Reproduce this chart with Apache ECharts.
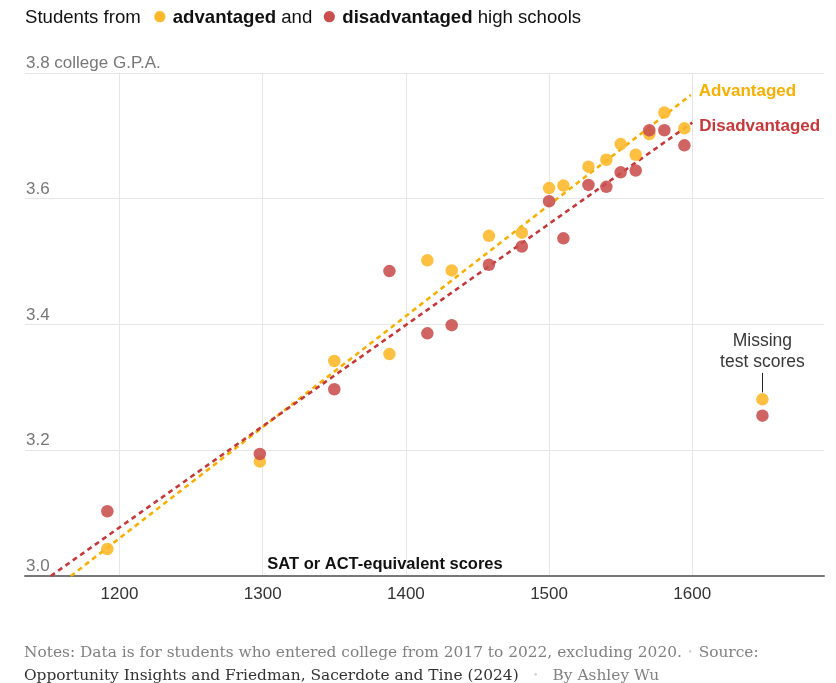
<!DOCTYPE html>
<html>
<head>
<meta charset="utf-8">
<script src="https://cdn.jsdelivr.net/npm/echarts@6/dist/echarts.min.js"></script>
<style>
html,body{margin:0;padding:0;background:#fff;}
#chart{width:836px;height:683px;}
</style>
</head>
<body>
<div id="chart"></div>
<script>
// ---- Data ----
const scores = [1191.5, 1298, 1350, 1388.5, 1415, 1432, 1458, 1481, 1500, 1510, 1527.5, 1540, 1550, 1560.5, 1570, 1580.5, 1594.5];
const advantagedGpa = [3.043, 3.182, 3.342, 3.353, 3.502, 3.486, 3.541, 3.546, 3.617, 3.621, 3.651, 3.662, 3.687, 3.670, 3.703, 3.737, 3.712];
const disadvantagedGpa = [3.103, 3.194, 3.297, 3.485, 3.386, 3.399, 3.495, 3.524, 3.596, 3.537, 3.622, 3.619, 3.642, 3.645, 3.709, 3.709, 3.685];
const missingScore = [1649];
const missingAdvantaged = [3.281];
const missingDisadvantaged = [3.255];
const advantagedTrend = [[1166, 3.0], [1599, 3.765]];
const disadvantagedTrend = [[1152, 3.0], [1600, 3.721]];
const yTicks = [3.0, 3.2, 3.4, 3.6, 3.8];
const xTicks = [1200, 1300, 1400, 1500, 1600];

const YEL = '#fdb92b';
const YEL_LINE = '#f5b000';
const RED = '#c84f4d';
const RED_LINE = '#c4383a';
const SANS = '"Liberation Sans", Arial, sans-serif';
const SERIF = '"DejaVu Serif", Georgia, serif';

const advData = scores.map((s, i) => [s, advantagedGpa[i]]);
advData.push({
  value: [missingScore[0], missingAdvantaged[0]],
  label: {
    show: true, position: 'top', distance: 20,
    formatter: 'Missing\ntest scores',
    fontFamily: SANS, fontSize: 17.5, lineHeight: 21, color: '#222'
  }
});
const disData = scores.map((s, i) => [s, disadvantagedGpa[i]]);
disData.push([missingScore[0], missingDisadvantaged[0]]);

const chart = echarts.init(document.getElementById('chart'), null, {renderer: 'canvas'});
chart.setOption({
  animation: false,
  backgroundColor: '#fff',
  textStyle: {fontFamily: SANS},
  title: {
    left: 25, top: 6, padding: 0,
    text: '{n|Students from }{y|●}{b| advantaged}{n| and }{r|●}{b| disadvantaged}{n| high schools}',
    textStyle: {
      fontWeight: 'normal', lineHeight: 24,
      rich: {
        n: {fontFamily: SANS, fontSize: 18.6, fontWeight: 'normal', color: '#111', lineHeight: 24},
        b: {fontFamily: SANS, fontSize: 18.6, fontWeight: 'bold', color: '#111', lineHeight: 24},
        y: {fontFamily: SANS, fontSize: 26, fontWeight: 'normal', color: YEL, padding: [0, 0, 2, 6], lineHeight: 24},
        r: {fontFamily: SANS, fontSize: 26, fontWeight: 'normal', color: RED, padding: [0, 0, 2, 4], lineHeight: 24}
      }
    }
  },
  grid: {left: 25, right: 12, top: 73, bottom: 107, containLabel: false},
  xAxis: {
    type: 'value', min: 1134, max: 1692,
    axisLine: {show: true, onZero: false, lineStyle: {color: '#777', width: 2}},
    axisTick: {show: false},
    splitLine: {show: true, showMinLine: false, showMaxLine: false, lineStyle: {color: '#e6e6e6', width: 1}},
    axisLabel: {
      showMinLabel: false, showMaxLabel: false,
      color: '#333', fontSize: 17, margin: 10, fontFamily: SANS,
      formatter: v => xTicks.includes(v) ? String(v) : ''
    },
    name: 'SAT or ACT-equivalent scores',
    nameLocation: 'middle', nameGap: -20, nameMoveOverlap: false,
    nameTextStyle: {fontFamily: SANS, fontWeight: 'bold', fontSize: 16.5, color: '#111', padding: [0, 79, 0, 0]}
  },
  yAxis: {
    type: 'value', min: 3.0, max: 3.8, interval: 0.2,
    axisLine: {show: false}, axisTick: {show: false},
    splitLine: {show: true, lineStyle: {color: '#e6e6e6', width: 1}},
    axisLabel: {
      inside: true, margin: 1, color: '#777', fontSize: 17, fontFamily: SANS,
      verticalAlign: 'bottom', padding: [0, 0, 1, 0],
      formatter: v => {
        const t = yTicks.find(k => Math.abs(k - v) < 1e-6);
        if (t === undefined) return '';
        return t === 3.8 ? '3.8 college G.P.A.' : t.toFixed(1);
      }
    }
  },
  series: [
    {
      type: 'line', name: 'Advantaged trend', data: advantagedTrend,
      symbol: 'none', silent: true, z: 2,
      lineStyle: {color: YEL_LINE, width: 2.6, type: [5, 4]},
      endLabel: {show: true, formatter: 'Advantaged', color: YEL_LINE, fontWeight: 'bold', fontSize: 17, fontFamily: SANS, offset: [0, -4]}
    },
    {
      type: 'line', name: 'Disadvantaged trend', data: disadvantagedTrend,
      symbol: 'none', silent: true, z: 2,
      lineStyle: {color: RED_LINE, width: 2.6, type: [5, 4]},
      endLabel: {show: true, formatter: 'Disadvantaged', color: RED_LINE, fontWeight: 'bold', fontSize: 17, fontFamily: SANS, offset: [-1, 4]}
    },
    {
      type: 'scatter', name: 'Advantaged', data: advData, z: 3,
      symbolSize: 12.5,
      itemStyle: {color: YEL, opacity: 0.9},
      markLine: {
        silent: true, symbol: 'none', label: {show: false},
        lineStyle: {color: '#222', width: 1, type: 'solid'},
        data: [[{coord: [missingScore[0], missingAdvantaged[0] + 0.011]}, {coord: [missingScore[0], missingAdvantaged[0] + 0.042]}]]
      }
    },
    {
      type: 'scatter', name: 'Disadvantaged', data: disData, z: 4,
      symbolSize: 12.5,
      itemStyle: {color: RED, opacity: 0.88}
    }
  ],
  graphic: [
    {
      type: 'text', left: 24, top: 645,
      style: {
        text: '{g|Notes: Data is for students who entered college from 2017 to 2022, excluding 2020.}{d|  •  }{g|Source:}',
        rich: {
          g: {fontFamily: SERIF, fontSize: 15.4, fill: '#808080'},
          d: {fontFamily: SERIF, fontSize: 9, fill: '#d0d0d0'}
        }
      }
    },
    {
      type: 'text', left: 24, top: 668,
      style: {
        text: '{k|Opportunity Insights and Friedman, Sacerdote and Tine (2024)}{d|     •     }{g|By Ashley Wu}',
        rich: {
          k: {fontFamily: SERIF, fontSize: 15.4, fill: '#333'},
          g: {fontFamily: SERIF, fontSize: 15.4, fill: '#808080'},
          d: {fontFamily: SERIF, fontSize: 9, fill: '#d0d0d0'}
        }
      }
    }
  ]
});
</script>
</body>
</html>
